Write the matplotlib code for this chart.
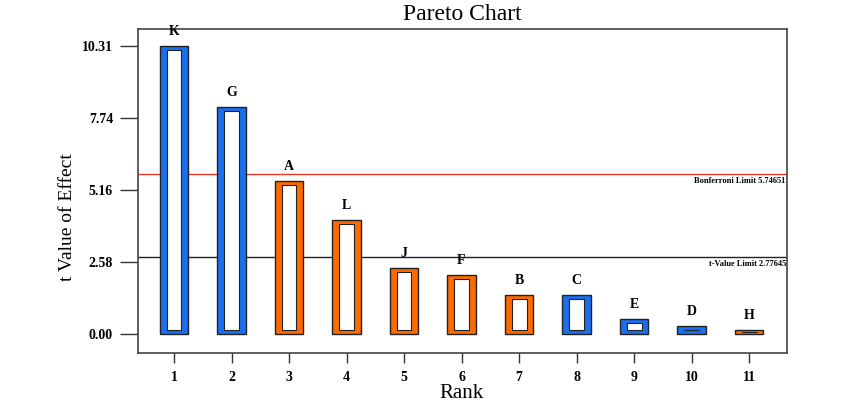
import matplotlib.pyplot as plt
from matplotlib.patches import Rectangle

# Données
ranks = [1, 2, 3, 4, 5, 6, 7, 8, 9, 10, 11]
factors = ['K', 'G', 'A', 'L', 'J', 'F', 'B', 'C', 'E', 'D', 'H']
t_values = [10.31, 8.14, 5.48, 4.09, 2.37, 2.11, 1.40, 1.40, 0.54, 0.29, 0.14]
positive = [True, True, False, False, False, False, False, True, True, True, False]
y_ticks = [0.00, 2.58, 5.16, 7.74, 10.31]
bonferroni = 5.74651
t_limit = 2.77645

blue = '#1a6ef0'
orange = '#ff6a00'

plt.rcParams['font.family'] = ['Liberation Serif', 'DejaVu Serif']

fig = plt.figure(figsize=(8.5, 4.03), dpi=100)
ax_l, ax_b, ax_w, ax_h = 138 / 850, 1 - 353 / 403, (787 - 138) / 850, (353 - 29) / 403
ax = fig.add_axes([ax_l, ax_b, ax_w, ax_h])

w_out = 0.5
w_in = 0.26
inset = 0.14
for r, v, lab, pos in zip(ranks, t_values, factors, positive):
    col = blue if pos else orange
    ax.bar(r, v, width=w_out, color=col, edgecolor='#222222', linewidth=1.0, zorder=3)
    h_in = max(v - 2 * inset, 0.03)
    y0 = (v - h_in) / 2
    ax.add_patch(Rectangle((r - w_in / 2, y0), w_in, h_in, facecolor='white',
                           edgecolor='#222222', linewidth=0.8, zorder=4))
    ax.annotate(lab, (r, v), xytext=(0, 6), textcoords='offset points',
                ha='center', va='bottom', fontsize=10, fontweight='bold')

ax.axhline(bonferroni, color='#e8322a', linewidth=1.0, zorder=2)
ax.axhline(t_limit, color='#222222', linewidth=1.0, zorder=2)
ax.text(11.64, bonferroni - 0.12, f'Bonferroni Limit {bonferroni}', ha='right', va='top',
        fontsize=6, fontweight='bold')
ax.text(11.64, t_limit - 0.12, f't-Value Limit {t_limit}', ha='right', va='top',
        fontsize=6, fontweight='bold')

ax.set_xlim(0.374, 11.66)
ax.set_ylim(-0.68, 10.93)
ax.set_xticks(ranks)
ax.set_yticks(y_ticks)
ax.set_yticklabels([f'{t:.2f}' for t in y_ticks])
ax.tick_params(axis='y', direction='out', length=13, width=1.0, pad=5,
               labelsize=10, color='#333333')
ax.tick_params(axis='x', direction='out', length=7, width=1.0, pad=6,
               labelsize=10, color='#333333')
for lbl in ax.get_xticklabels() + ax.get_yticklabels():
    lbl.set_fontweight('bold')
for s in ax.spines.values():
    s.set_color('#444444')
    s.set_linewidth(1.2)

ax.set_xlabel('Rank', fontsize=15)
ax.set_ylabel('t Value of Effect', fontsize=14)
ax.xaxis.set_label_coords((462 / 850 - ax_l) / ax_w, (1 - 393 / 403 - ax_b) / ax_h)
ax.yaxis.set_label_coords((68 / 850 - ax_l) / ax_w, (1 - 217 / 403 - ax_b) / ax_h)
ax.xaxis.label.set_va('center')
ax.yaxis.label.set_va('center')
fig.text(462 / 850, 1 - 14 / 403, 'Pareto Chart', ha='center', va='center', fontsize=17)

plt.savefig('out.png', dpi=100)
